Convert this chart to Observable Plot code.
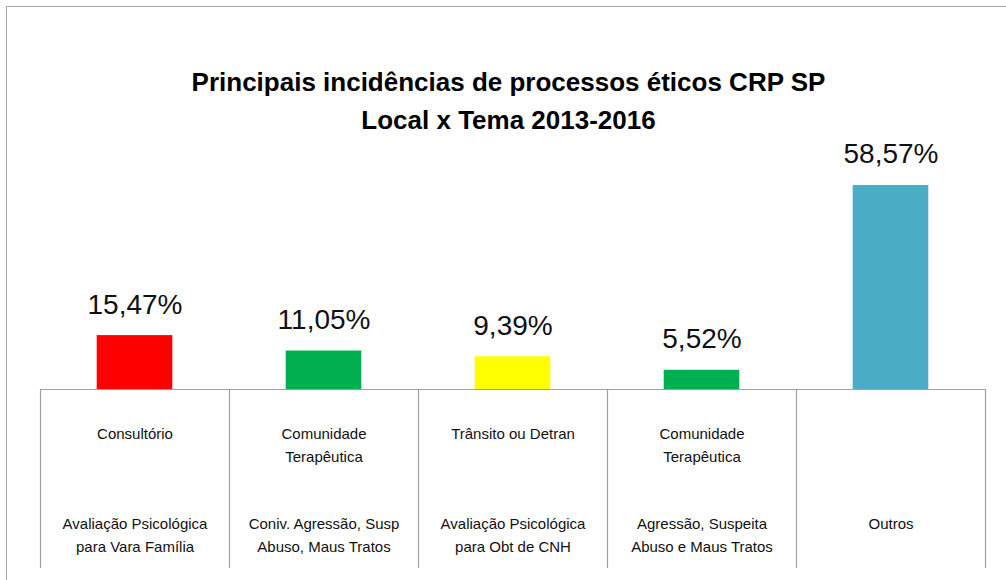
<!DOCTYPE html>
<html>
<head>
<meta charset="utf-8">
<script src="https://cdn.jsdelivr.net/npm/d3@7"></script>
<script src="https://cdn.jsdelivr.net/npm/@observablehq/plot@0.6"></script>
<style>
  html, body { margin: 0; padding: 0; background: #fff; }
  #chart svg { display: block; }
</style>
</head>
<body>
<div id="chart"></div>
<script>
const titulo = "Principais incidências de processos éticos CRP SP\nLocal x Tema 2013-2016";
const locais = ["Consultório", "Comunidade\nTerapêutica", "Trânsito ou Detran", "Comunidade\nTerapêutica", ""];
const temas = ["Avaliação Psicológica\npara Vara Família", "Coniv. Agressão, Susp\nAbuso, Maus Tratos", "Avaliação Psicológica\npara Obt de CNH", "Agressão, Suspeita\nAbuso e Maus Tratos", "Outros"];
const valores = [15.47, 11.05, 9.39, 5.52, 58.57];
const cores = ["#FF0000", "#00B050", "#FFFF00", "#00B050", "#4BACC6"];

const data = temas.map((t, i) => ({tema: t, local: locais[i], valor: valores[i], cor: cores[i]}));
const fmt = v => v.toFixed(2).replace(".", ",") + "%";

const W = 1006, H = 580;
const mL = 40, mR = 21;
const half = (W - mL - mR) / temas.length / 2;
const lineColor = "#a0a0a0";

const chart = Plot.plot({
  width: W,
  height: H,
  marginLeft: mL,
  marginRight: mR,
  marginTop: 180,
  marginBottom: 191,
  style: {background: "#fff", fontFamily: "'Liberation Sans', Arial, sans-serif", color: "#000"},
  x: {domain: temas, paddingInner: 0.6, paddingOuter: 0.3, axis: null, round: false},
  y: {domain: [0, 60], axis: null},
  color: {type: "identity"},
  marks: [
    Plot.frame({stroke: "#a6a6a6", insetLeft: -34, insetTop: -174, insetRight: -30, insetBottom: -230}),
    Plot.barY(data, {x: "tema", y: "valor", fill: "cor"}),
    Plot.ruleY([0], {stroke: lineColor, strokeWidth: 1.2}),
    Plot.ruleX(data, {x: "tema", y1: 0, y2: 0, dx: -half, insetBottom: -179, stroke: lineColor, strokeWidth: 1.2}),
    Plot.ruleX([data[data.length - 1]], {x: "tema", y1: 0, y2: 0, dx: half, insetBottom: -179, stroke: lineColor, strokeWidth: 1.2}),
    Plot.text(data, {x: "tema", y: "valor", text: d => fmt(d.valor), dy: -22, lineAnchor: "bottom", fontSize: 28, fill: "#111"}),
    Plot.text(data, {x: "tema", y: 0, text: "local", lineAnchor: "top", dy: 33, fontSize: 15, lineHeight: 1.53, fill: "#111"}),
    Plot.text(data, {x: "tema", y: 0, text: "tema", lineAnchor: "top", dy: 123, fontSize: 15, lineHeight: 1.53, fill: "#111"}),
    Plot.text([titulo], {frameAnchor: "top", dx: -4.5, dy: -52, lineAnchor: "bottom", fontSize: 26, fontWeight: "bold", lineHeight: 1.46, fill: "#000"})
  ]
});
document.getElementById("chart").appendChild(chart);
</script>
</body>
</html>
